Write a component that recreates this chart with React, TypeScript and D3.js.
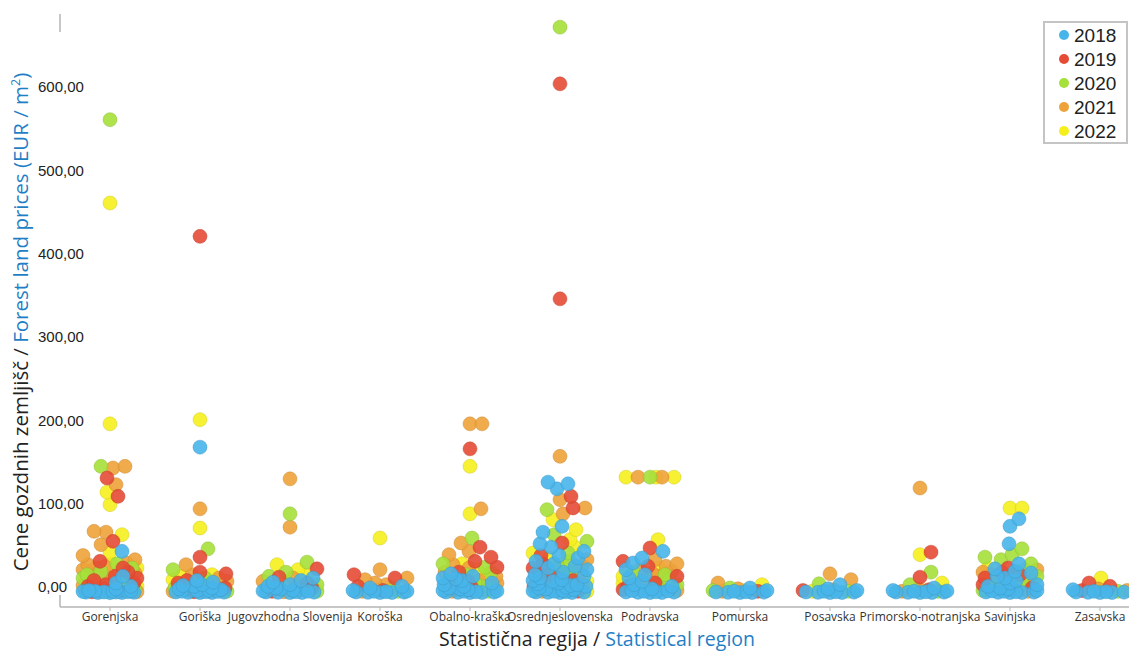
import React from "react";
import * as d3 from "d3";

// Statistical regions (x axis)
const regions = [
  "Gorenjska",
  "Goriška",
  "Jugovzhodna Slovenija",
  "Koroška",
  "Obalno-kraška",
  "Osrednjeslovenska",
  "Podravska",
  "Pomurska",
  "Posavska",
  "Primorsko-notranjska",
  "Savinjska",
  "Zasavska",
];

const years = ["2018", "2019", "2020", "2021", "2022"];
const yearColors = ["#47b5ea", "#e64b35", "#a5e03b", "#eea23a", "#f6ef1e"];

const yTicks = [0, 100, 200, 300, 400, 500, 600];

// Forest land prices (EUR / m²), one list per region, in region order
const prices2018: number[][] = [
  [50, 20, 12, 8, 5, 3, 2.5, 2, 1.8, 1.5, 1.2, 1, 0.8, 0.6, 0.5, 0.4, 1.1, 2.2],
  [175, 15, 13, 10, 9, 8, 6, 5, 4, 3, 2.5, 2, 1.5, 1.2, 1, 0.8, 0.6, 0.5, 1.8],
  [18, 15, 13, 10, 8, 6, 5, 3, 2, 1.5, 1.2, 1, 0.8, 0.6, 0.5, 2.5],
  [8, 6, 3, 2, 1.5, 1.2, 1, 0.8, 0.6, 0.5, 2.2],
  [23, 20, 18, 17, 15, 12, 10, 8, 6, 5, 4, 3, 2.5, 2, 1.5, 1.2, 1, 0.8, 0.6, 0.5],
  [133, 131, 125, 80, 73, 59, 55, 50, 45, 42, 38, 35, 32, 30, 28, 25, 22, 20, 18, 16, 15, 14, 12, 11, 10, 9, 8, 7, 6, 5, 4, 3, 2.5, 2, 1.5, 1.2, 1, 0.8, 0.6, 0.5],
  [50, 42, 36, 28, 22, 18, 14, 10, 8, 5, 3, 2.5, 2, 1.5, 1.2, 1, 0.8, 0.6, 0.5],
  [6, 3, 2, 1.5, 1, 0.8, 0.6, 0.5, 1.2],
  [10, 5, 3, 2, 1.5, 1, 0.8, 0.6, 0.5, 1.2],
  [6, 3, 2, 1.5, 1.2, 1, 0.8, 0.6, 0.5, 2.5],
  [89, 80, 59, 35, 29, 26, 24, 20, 18, 15, 12, 10, 8, 6, 5, 3, 2.5, 2, 1.5, 1.2, 1, 0.8, 0.6, 0.5],
  [4, 2, 1.5, 1.2, 1, 0.8, 0.6, 0.5],
];

const prices2019: number[][] = [
  [138, 116, 62, 38, 30, 25, 20, 18, 15, 12, 10, 8, 5, 3, 2, 1.5],
  [428, 43, 25, 23, 15, 12, 6, 3, 1.5],
  [29, 19, 12, 6, 2],
  [22, 18, 8, 3],
  [173, 55, 43, 38, 31, 25, 14, 10, 8, 5, 3],
  [611, 353, 116, 102, 60, 45, 35, 30, 22, 18, 15, 10, 8, 4, 2],
  [54, 38, 32, 20, 12, 8, 4],
  [2],
  [3],
  [49, 19, 4],
  [30, 25, 22, 18, 10, 6, 4],
  [12, 8, 3],
];

const prices2020: number[][] = [
  [568, 152, 35, 30, 26, 22, 18, 15, 12, 10, 8, 6, 4, 2],
  [53, 28, 18, 10, 6, 4, 2],
  [95, 37, 25, 20, 10, 5, 2],
  [5, 2],
  [66, 35, 31, 25, 22, 15, 12, 8, 5, 2],
  [679, 100, 70, 62, 48, 38, 30, 25, 20, 15, 10, 8, 3],
  [139, 25, 22, 15, 10, 5],
  [6, 3],
  [11, 2],
  [25, 10, 2],
  [53, 46, 43, 40, 35, 28, 20, 12, 8, 3],
  [2],
];

const prices2021: number[][] = [
  [152, 150, 130, 74, 73, 58, 45, 40, 36, 34, 32, 30, 28, 27, 25, 24, 22, 20, 19, 18, 16, 15, 14, 12, 11, 10, 9, 8, 7, 6, 5, 4, 3, 2, 1.5],
  [101, 34, 22, 18, 14, 10, 8, 5, 3, 2],
  [137, 79, 18, 14, 10, 4, 1.5],
  [28, 18, 16, 12, 10, 4, 2],
  [203, 203, 101, 60, 50, 46, 34, 30, 25, 20, 15, 12, 8, 6, 4, 2],
  [164, 112, 102, 95, 40, 33, 28, 25, 20, 15, 12, 10, 6, 3, 2],
  [139, 139, 40, 35, 32, 28, 26, 24, 20, 18, 15, 12, 8, 5, 3],
  [12, 5, 2],
  [23, 16, 4],
  [126, 5, 2],
  [28, 25, 22, 20, 18, 15, 12, 10, 8, 5, 2],
  [5, 3],
];

const prices2022: number[][] = [
  [468, 203, 121, 106, 70, 49, 35, 30, 28, 25, 22, 20, 18, 15, 13, 12, 10, 8, 6, 5, 3, 2],
  [208, 78, 22, 20, 16, 8, 6, 2],
  [34, 28, 22, 12, 3],
  [66, 3],
  [152, 95, 35, 28, 22, 18, 14, 10, 6, 3],
  [88, 76, 64, 55, 48, 42, 35, 30, 25, 18, 14, 10, 5, 2],
  [139, 139, 139, 64, 30, 20, 12, 6],
  [10, 3],
  [2],
  [46, 12, 3],
  [102, 102, 30, 14, 8, 4],
  [18, 4],
];

const pricesByYear = [prices2018, prices2019, prices2020, prices2021, prices2022];

const W = 1129;
const H = 651;
const R = 7;
const HALF_BAND = 27;
const MIN_DIST = R * 2 * 0.8;

type Pt = { key: string; x: number; y: number; yearIdx: number };

// Swarm layout: each point keeps its exact y and is nudged sideways
// to the nearest free slot inside its region's band.
function swarm(items: { key: string; y: number; yearIdx: number }[], cx: number): Pt[] {
  const sorted = [...items].sort((a, b) => b.y - a.y || a.yearIdx - b.yearIdx);
  const placed: Pt[] = [];
  const offsets: number[] = [0];
  for (let s = 1; s <= HALF_BAND; s++) offsets.push(s, -s);
  for (const it of sorted) {
    let best = 0;
    let bestGap = -Infinity;
    for (const o of offsets) {
      const px = cx + o;
      let gap = Infinity;
      for (const q of placed) {
        const dy = q.y - it.y;
        if (Math.abs(dy) >= MIN_DIST) continue;
        const d = Math.hypot(q.x - px, dy);
        if (d < gap) gap = d;
      }
      if (gap >= MIN_DIST) {
        best = o;
        break;
      }
      if (gap > bestGap) {
        bestGap = gap;
        best = o;
      }
    }
    placed.push({ key: it.key, x: cx + best, y: it.y, yearIdx: it.yearIdx });
  }
  return placed;
}

export default function App() {
  const x = d3.scalePoint<string>().domain(regions).range([110, 1100]);
  const y = d3.scaleLinear().domain([0, 600]).range([593, 93]);

  const points: Pt[] = [];
  regions.forEach((region, ri) => {
    const items: { key: string; y: number; yearIdx: number }[] = [];
    pricesByYear.forEach((table, yi) => {
      table[ri].forEach((v, vi) => {
        items.push({ key: `${region}-${yi}-${vi}`, y: y(v), yearIdx: yi });
      });
    });
    points.push(...swarm(items, x(region) as number));
  });
  // Later years underneath, 2018 on top
  const ordered = [...points].sort((a, b) => b.yearIdx - a.yearIdx);

  const axisColor = "#b4b4b4";
  const blue = "#1f7fc6";

  return (
    <svg width={W} height={H} style={{ position: "absolute", left: 0, top: 0, background: "#fff" }}>
      {/* axes */}
      <line x1={60} x2={60} y1={14} y2={607} stroke={axisColor} strokeWidth={1.5} />
      <line x1={60} x2={W} y1={607} y2={607} stroke={axisColor} strokeWidth={1.5} />
      {regions.map((r) => (
        <line key={r} x1={x(r)} x2={x(r)} y1={607} y2={611} stroke={axisColor} strokeWidth={1} />
      ))}
      {/* y tick label panel */}
      <rect x={34} y={32} width={54} height={563} fill="#fff" />
      {yTicks.map((t) => (
        <text
          key={t}
          x={38}
          y={y(t) - 6}
          dy="0.35em"
          fontFamily="Liberation Sans, Arial, sans-serif"
          fontSize={15}
          fill="#222"
        >
          {d3.format(".2f")(t).replace(".", ",")}
        </text>
      ))}

      {/* points */}
      <g>
        {ordered.map((p) => (
          <circle
            key={p.key}
            cx={p.x}
            cy={p.y}
            r={R}
            fill={yearColors[p.yearIdx]}
            fillOpacity={0.9}
            stroke={d3.color(yearColors[p.yearIdx])!.darker(0.5).toString()}
            strokeOpacity={0.45}
            strokeWidth={1}
          />
        ))}
      </g>

      {/* category labels */}
      {regions.map((r) => (
        <text
          key={r}
          x={x(r)}
          y={621}
          textAnchor="middle"
          fontFamily="Open Sans, sans-serif"
          fontSize={12}
          fill="#333"
        >
          {r}
        </text>
      ))}

      {/* axis titles */}
      <text
        x={597}
        y={646}
        textAnchor="middle"
        fontFamily="Open Sans, sans-serif"
        fontSize={19.5}
        fill="#222"
      >
        Statistična regija / <tspan fill={blue}>Statistical region</tspan>
      </text>
      <text
        transform="translate(28,322) rotate(-90)"
        textAnchor="middle"
        fontFamily="Open Sans, sans-serif"
        fontSize={20.5}
        fill="#222"
      >
        Cene gozdnih zemljišč / <tspan fill={blue}>Forest land prices (EUR / m</tspan>
        <tspan fill={blue} fontSize={12.5} dy={-8}>2</tspan>
        <tspan fill={blue} dy={8}>)</tspan>
      </text>

      {/* legend */}
      <rect x={1044} y={22} width={83} height={121} fill="#fff" stroke="#c4c4c4" strokeWidth={2} />
      {years.map((yr, i) => (
        <g key={yr} transform={`translate(0,${35 + i * 24})`}>
          <circle cx={1064} cy={0} r={5} fill={yearColors[i]} />
          <text
            x={1074}
            y={0}
            dy="0.36em"
            fontFamily="Liberation Sans, Arial, sans-serif"
            fontSize={19}
            fill="#222"
          >
            {yr}
          </text>
        </g>
      ))}
    </svg>
  );
}
